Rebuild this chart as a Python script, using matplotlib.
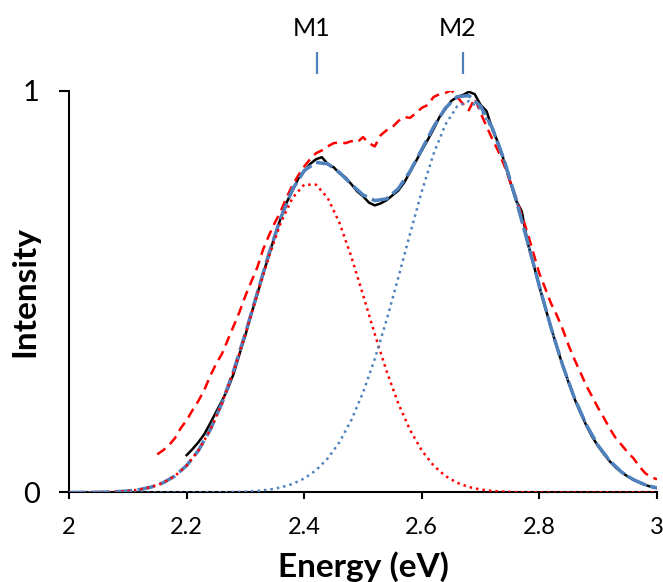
import numpy as np
import matplotlib
matplotlib.use("Agg")
import matplotlib.pyplot as plt

plt.rcParams['font.family'] = ['Lato', 'DejaVu Sans']

# energy grid of the fitted curves (eV)
energy_fit = np.linspace(2.0, 3.0, 51)

# Gaussian component M1 (red dotted)
m1 = [0.0001, 0.0002, 0.0004, 0.0009, 0.0019, 0.0038, 0.0073, 0.0136, 0.0242, 0.0411,
      0.0670, 0.1043, 0.1555, 0.2217, 0.3023, 0.3945, 0.4922, 0.5877, 0.6713, 0.7335,
      0.7667, 0.7667, 0.7335, 0.6713, 0.5877, 0.4922, 0.3945, 0.3023, 0.2217, 0.1555,
      0.1043, 0.0670, 0.0411, 0.0242, 0.0136, 0.0073, 0.0038, 0.0019, 0.0009, 0.0004,
      0.0002, 0.0001, 0, 0, 0, 0, 0, 0, 0, 0, 0]

# Gaussian component M2 (blue dotted)
m2 = [0, 0, 0, 0, 0, 0, 0, 0, 0, 0,
      0.0001, 0.0001, 0.0003, 0.0005, 0.0011, 0.0021, 0.0039, 0.0071, 0.0125, 0.0212,
      0.0349, 0.0554, 0.0849, 0.1257, 0.1800, 0.2488, 0.3325, 0.4291, 0.5351, 0.6445,
      0.7502, 0.8434, 0.9162, 0.9615, 0.9748, 0.9548, 0.9036, 0.8261, 0.7297, 0.6226,
      0.5133, 0.4088, 0.3146, 0.2338, 0.1680, 0.1165, 0.0781, 0.0506, 0.0317, 0.0191, 0.0112]

# total fit (blue dashed)
fit_total = [0.0001, 0.0002, 0.0004, 0.0009, 0.0019, 0.0038, 0.0073, 0.0136, 0.0242, 0.0411,
             0.0671, 0.1044, 0.1558, 0.2222, 0.3034, 0.3966, 0.4961, 0.5948, 0.6838, 0.7547,
             0.8016, 0.8221, 0.8184, 0.7970, 0.7677, 0.7410, 0.7270, 0.7314, 0.7568, 0.8000,
             0.8545, 0.9104, 0.9573, 0.9857, 0.9884, 0.9621, 0.9074, 0.8280, 0.7306, 0.6230,
             0.5135, 0.4089, 0.3146, 0.2338, 0.1680, 0.1165, 0.0781, 0.0506, 0.0317, 0.0191, 0.0112]

# measured spectrum (black)
energy_meas = np.linspace(2.2, 3.0, 81)
measured = [0.093, 0.108, 0.125, 0.145, 0.172, 0.200, 0.228, 0.258, 0.296, 0.345,
            0.392, 0.445, 0.492, 0.545, 0.590, 0.640, 0.683, 0.722, 0.752, 0.782,
            0.800, 0.818, 0.830, 0.835, 0.818, 0.810, 0.795, 0.785, 0.768, 0.750,
            0.738, 0.722, 0.715, 0.720, 0.728, 0.740, 0.752, 0.772, 0.798, 0.825,
            0.852, 0.878, 0.905, 0.935, 0.955, 0.975, 0.985, 0.990, 0.998, 0.992,
            0.965, 0.950, 0.905, 0.870, 0.825, 0.775, 0.728, 0.700, 0.622, 0.568,
            0.512, 0.460, 0.410, 0.360, 0.315, 0.272, 0.232, 0.198, 0.166, 0.138,
            0.115, 0.095, 0.077, 0.062, 0.050, 0.040, 0.032, 0.025, 0.019, 0.014,
            0.011]

# reference spectrum (red dashed)
energy_ref = np.linspace(2.15, 3.0, 86)
reference = [0.095, 0.105, 0.118, 0.135, 0.160,
             0.180, 0.205, 0.228, 0.255, 0.290, 0.320, 0.345, 0.380, 0.415, 0.450,
             0.490, 0.525, 0.560, 0.605, 0.640, 0.672, 0.700, 0.735, 0.765, 0.790,
             0.812, 0.830, 0.845, 0.852, 0.862, 0.870, 0.872, 0.870, 0.875, 0.872,
             0.885, 0.870, 0.862, 0.890, 0.902, 0.910, 0.925, 0.935, 0.933, 0.945,
             0.958, 0.965, 0.985, 0.992, 0.995, 1.002, 0.985, 0.968, 0.952, 0.982,
             0.945, 0.912, 0.880, 0.850, 0.815, 0.775, 0.735, 0.690, 0.645, 0.595,
             0.545, 0.508, 0.470, 0.440, 0.405, 0.365, 0.330, 0.298, 0.265, 0.238,
             0.210, 0.185, 0.158, 0.135, 0.118, 0.100, 0.085, 0.065, 0.048, 0.038,
             0.033]

peak_names = ['M1', 'M2']
peak_pos = [2.422, 2.670]

x_ticks = [2.0, 2.2, 2.4, 2.6, 2.8, 3.0]
x_ticklabels = ['2', '2.2', '2.4', '2.6', '2.8', '3']

blue = '#4F81BD'
red = '#FF0000'

fig = plt.figure(figsize=(6.63, 5.82), dpi=100)
ax = fig.add_axes([0.1041, 0.1538, 0.8869, 0.6899])

ax.plot(energy_ref, reference, color=red, lw=1.8, ls=(0, (4, 2.5)), zorder=3)
ax.plot(energy_meas, measured, color='black', lw=1.8, zorder=2)
ax.plot(energy_fit, fit_total, color=blue, lw=2.5, ls=(0, (5, 1.6)), zorder=4)
ax.plot(energy_fit, m1, color=red, lw=1.8, ls=(0, (1, 1.6)), zorder=5)
ax.plot(energy_fit, m2, color=blue, lw=1.8, ls=(0, (1, 1.6)), zorder=5)

# peak markers above the plot
ax.vlines(peak_pos, 1.042, 1.097, color=blue, lw=1.6, clip_on=False)
for name, pos in zip(peak_names, peak_pos):
    ax.annotate(name, (pos, 1.137), xytext=(-4, 0), textcoords='offset points',
                ha='center', va='baseline', fontsize=18, annotation_clip=False)

ax.set_xlim(2.0, 3.0)
ax.set_ylim(0, 1)
ax.set_xticks(x_ticks)
ax.set_xticklabels(x_ticklabels)
ax.set_yticks([0, 1])
ax.set_yticklabels(['0', '1'])

for s in ['top', 'right']:
    ax.spines[s].set_visible(False)
for s in ['left', 'bottom']:
    ax.spines[s].set_linewidth(1.5)

ax.tick_params(axis='x', direction='out', length=5, width=1.5, labelsize=17, pad=13)
ax.tick_params(axis='y', direction='out', length=7, width=1.5, labelsize=21, pad=14)

ax.set_xlabel('Energy (eV)', fontsize=24, fontweight='bold', labelpad=9)
ax.set_ylabel('Intensity', fontsize=24, fontweight='bold', labelpad=-12)

fig.savefig('out.png', dpi=100)
